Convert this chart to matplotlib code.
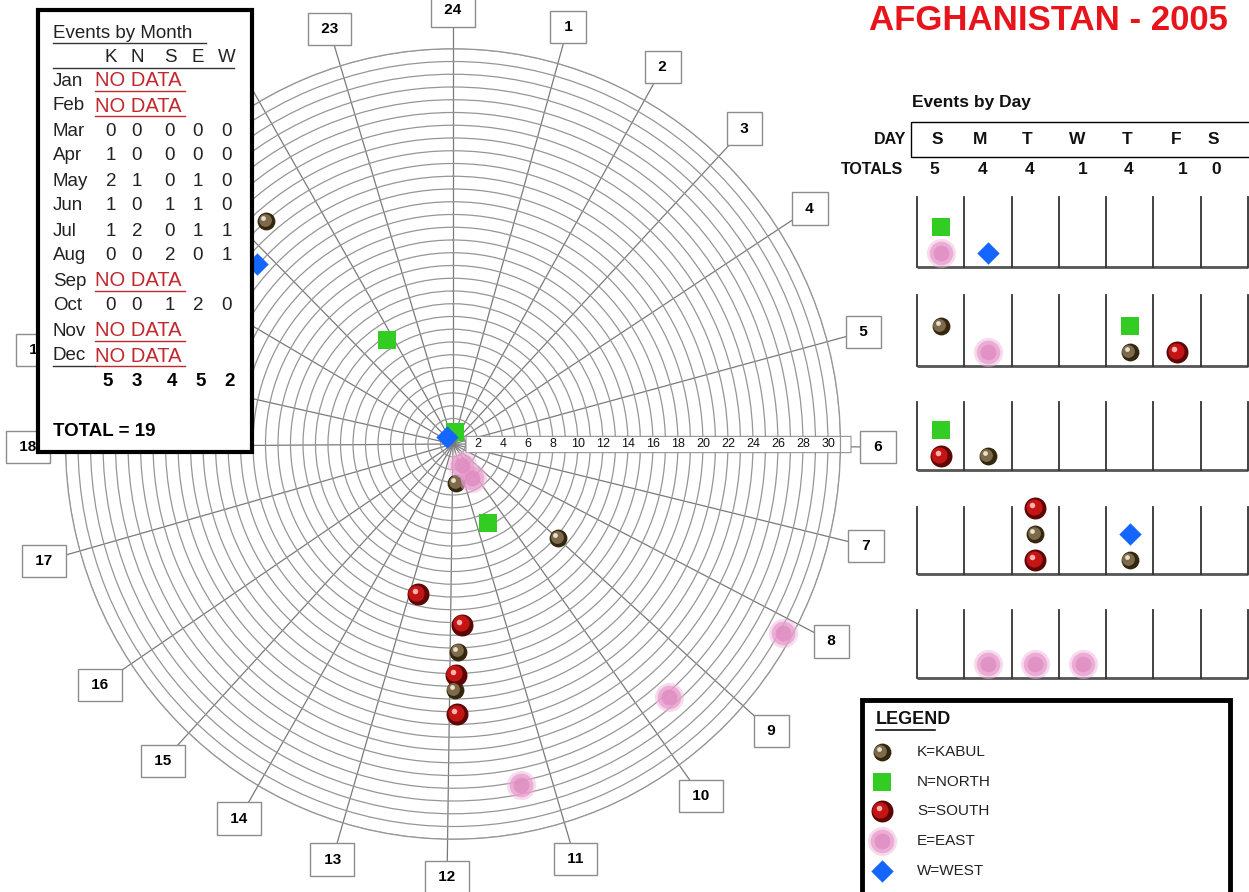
import numpy as np
import matplotlib.pyplot as plt
from matplotlib.patches import Rectangle
from matplotlib.transforms import offset_copy

plt.rcParams['font.family'] = ['Liberation Sans', 'DejaVu Sans']

# events on the clock chart: hour of day (angle) and ring value (radius)
k_hour = [21.3, 11.7, 8.75, 11.9, 11.97]
k_ring = [23.0, 3.1, 11.2, 16.3, 19.3]
n_hour = [21.8, 0.65, 10.4]
n_ring = [9.7, 0.95, 6.8]
s_hour = [12.9, 11.8, 11.95, 11.94]
s_ring = [12.1, 14.2, 18.1, 21.2]
e_hour = [10.4, 10.0, 7.95, 9.26, 11.23]
e_ring = [1.8, 3.1, 30.3, 26.3, 27.3]
w_hour = [20.8, 21.3]
w_ring = [21.1, 0.75]

# hour spokes, drawn by hand in the original so not quite every 15 degrees
hours = list(range(1, 25))
spoke_deg = [15.7, 29.6, 43.3, 57.1, 75.0, 90.4, 103.6, 117.1, 131.5, 144.3, 163.3, 180.8,
             196.5, 210.2, 223.0, 236.2, 254.3, 269.6, 282.5, 300.0, 315.0, 330.0, 343.1, 360.0]
ring_labels = list(range(2, 31, 2))

# events by month table (None = NO DATA)
months = ['Jan', 'Feb', 'Mar', 'Apr', 'May', 'Jun', 'Jul', 'Aug', 'Sep', 'Oct', 'Nov', 'Dec']
regions = ['K', 'N', 'S', 'E', 'W']
month_counts = [None, None,
                [0, 0, 0, 0, 0],
                [1, 0, 0, 0, 0],
                [2, 1, 0, 1, 0],
                [1, 0, 1, 1, 0],
                [1, 2, 0, 1, 1],
                [0, 0, 2, 0, 1],
                None,
                [0, 0, 1, 2, 0],
                None, None]

# events by day calendar: week row, weekday column, region, stack slot
days = ['S', 'M', 'T', 'W', 'T', 'F', 'S']
cal_week = [0, 0, 0, 1, 1, 1, 1, 1, 2, 2, 2, 3, 3, 3, 3, 3, 4, 4, 4]
cal_day = [0, 0, 1, 0, 1, 4, 4, 5, 0, 0, 1, 2, 2, 2, 4, 4, 1, 2, 3]
cal_region = ['N', 'E', 'W', 'K', 'E', 'N', 'K', 'S', 'N', 'S', 'K',
              'S', 'K', 'S', 'W', 'K', 'E', 'E', 'E']
cal_slot = [1, 0, 0, 1, 0, 1, 0, 0, 1, 0, 0, 2, 1, 0, 1, 0, 0, 0, 0]

legend_codes = ['K', 'N', 'S', 'E', 'W']
legend_names = ['K=KABUL', 'N=NORTH', 'S=SOUTH', 'E=EAST', 'W=WEST']


def draw_events(ax, x, y, region, z=5):
    fig = ax.figure
    hi1 = offset_copy(ax.transData, fig=fig, x=-1.5, y=1.5, units='dots')
    hi2 = offset_copy(ax.transData, fig=fig, x=-3, y=3, units='dots')
    if region == 'K':
        ax.scatter(x, y, s=165, c='#33270f', linewidths=0, zorder=z, clip_on=False)
        ax.scatter(x, y, s=85, c='#7d6a4a', linewidths=0, zorder=z + 0.1, transform=hi1, clip_on=False)
        ax.scatter(x, y, s=12, c='#e8dfcc', linewidths=0, zorder=z + 0.2, transform=hi2, clip_on=False)
    elif region == 'S':
        ax.scatter(x, y, s=250, c='#5e0606', linewidths=0, zorder=z, clip_on=False)
        ax.scatter(x, y, s=135, c='#c41414', linewidths=0, zorder=z + 0.1, transform=hi1, clip_on=False)
        ax.scatter(x, y, s=16, c='#ffb0b0', linewidths=0, zorder=z + 0.2, transform=hi2, clip_on=False)
    elif region == 'N':
        ax.scatter(x, y, s=175, marker='s', c='#33cc22', linewidths=0, zorder=z, clip_on=False)
    elif region == 'W':
        ax.scatter(x, y, s=130, marker='D', c='#1466ff', linewidths=0, zorder=z, clip_on=False)
    elif region == 'E':
        ax.scatter(x, y, s=440, c='#f0b8dc', alpha=0.5, linewidths=0, zorder=z, clip_on=False)
        ax.scatter(x, y, s=290, c='#e79acb', alpha=0.7, linewidths=0, zorder=z + 0.1, clip_on=False)
        ax.scatter(x, y, s=130, c='#df88bf', alpha=0.7, linewidths=0, zorder=z + 0.2, clip_on=False)


W, H = 1249, 892
fig = plt.figure(figsize=(W / 100, H / 100), dpi=100)
fig.patch.set_facecolor('white')

# clock chart
cx, cy = 453, 444
unit_x, unit_y = 12.5, 12.75
rmax = 31
ax = fig.add_axes([(cx - rmax * unit_x) / W, (H - cy - rmax * unit_y) / H,
                   2 * rmax * unit_x / W, 2 * rmax * unit_y / H], projection='polar')
ax.set_aspect('auto')
ax.set_theta_zero_location('N')
ax.set_theta_direction(-1)
ax.set_ylim(0, rmax)
ax.set_yticks(np.arange(1, rmax + 1))
ax.set_yticklabels([])
ax.set_xticks([])
ax.yaxis.grid(True, color='#969696', lw=0.9)
ax.xaxis.grid(False)
ax.spines['polar'].set_color('#969696')
ax.spines['polar'].set_linewidth(0.9)

for h, deg in zip(hours, spoke_deg):
    th = np.deg2rad(deg)
    ax.plot([0, th], [0, 34.0], color='#7a7a7a', lw=0.9, zorder=1, clip_on=False)
    if h in (20, 21, 22):
        continue  # these boxes sit under the month table
    ax.text(th, 34.0, ' %d ' % h, ha='center', va='center', fontsize=11, fontweight='bold',
            bbox=dict(boxstyle='square,pad=0.6', fc='white', ec='#8c8c8c', lw=1),
            zorder=3, clip_on=False)

# ring scale strip along the 6 o'clock spoke
th6 = np.deg2rad(90)
ax.plot([th6, th6], [0.95, 31.85], color='#8c8c8c', lw=12.5, solid_capstyle='butt', zorder=2, clip_on=False)
ax.plot([th6, th6], [1.05, 31.75], color='white', lw=11.0, solid_capstyle='butt', zorder=2.1, clip_on=False)
for r in ring_labels:
    ax.text(th6, r, str(r), ha='center', va='center', fontsize=9, color='#111', zorder=2.2)

for hrs, rings, code in [(k_hour, k_ring, 'K'), (n_hour, n_ring, 'N'), (s_hour, s_ring, 'S'),
                         (e_hour, e_ring, 'E'), (w_hour, w_ring, 'W')]:
    draw_events(ax, np.deg2rad(np.array(hrs) * 15), np.array(rings), code)

# overlay in pixel coordinates for the panels
ov = fig.add_axes([0, 0, 1, 1])
ov.set_xlim(0, W)
ov.set_ylim(H, 0)
ov.axis('off')
ov.patch.set_alpha(0)

ov.text(1048, 21, 'AFGHANISTAN - 2005', ha='center', va='center', fontsize=25,
        fontweight='bold', color='#e8141b')

# month table
txt = '#222222'
red = '#c0282d'
ov.add_patch(Rectangle((38, 10), 214, 442, fc='white', ec='black', lw=3, zorder=2))
ov.text(53, 33, 'Events by Month', fontsize=13.5, va='center', color=txt, zorder=3)
ov.plot([53, 206], [43, 43], color='#333', lw=1, zorder=3)
col_x = [111, 137, 170, 198, 227]
for lab, x in zip(regions, col_x):
    ov.text(x, 57, lab, ha='center', va='center', fontsize=13.5, color=txt, zorder=3)
ov.plot([53, 234], [68, 68], color='#333', lw=1, zorder=3)
for i, (m, counts) in enumerate(zip(months, month_counts)):
    y = 81 + 25 * i
    ov.text(53, y, m, va='center', fontsize=13.5, color=txt, zorder=3)
    if counts is None:
        ov.text(95, y, 'NO DATA', va='center', fontsize=14.5, color=red, zorder=3)
        ov.plot([95, 185], [y + 10, y + 10], color=red, lw=1, zorder=3)
    else:
        for v, x in zip(counts, col_x):
            ov.text(x, y, str(v), ha='center', va='center', fontsize=13.5, color=txt, zorder=3)
ov.plot([53, 95], [366, 366], color='#333', lw=1, zorder=3)
col_tot = [sum(c[j] for c in month_counts if c is not None) for j in range(len(regions))]
tot_col_x = [108, 137, 172, 201, 230]
for v, x in zip(col_tot, tot_col_x):
    ov.text(x, 381, str(v), ha='center', va='center', fontsize=13.5, fontweight='bold', zorder=3)
ov.text(53, 432, 'TOTAL = %d' % sum(col_tot), va='center', fontsize=13.5, fontweight='bold', zorder=3)

# events by day
ov.text(912, 103, 'Events by Day', va='center', fontsize=12.5, fontweight='bold', color='#111')
ov.add_patch(Rectangle((911, 122), 345, 35, fc='none', ec='black', lw=1))
ov.text(906, 140, 'DAY', ha='right', va='center', fontsize=11.5, fontweight='bold', color='#111')
ov.text(903, 169, 'TOTALS', ha='right', va='center', fontsize=11.5, fontweight='bold', color='#111')
day_x = [937, 980, 1027, 1077, 1127, 1176, 1213]
tot_x = [934, 983, 1030, 1083, 1129, 1183, 1216]
day_tot = [cal_day.count(d) for d in range(7)]
for d, lab in enumerate(days):
    ov.text(day_x[d], 140, lab, ha='center', va='center', fontsize=12.5, fontweight='bold', color='#111')
    ov.text(tot_x[d], 169, str(day_tot[d]), ha='center', va='center', fontsize=12.5, fontweight='bold', color='#111')

col0, colw = 917, 47.3
row_top = [197, 295, 402, 507, 610]
row_base = [267, 366, 470, 574, 678]
for top, base in zip(row_top, row_base):
    ov.plot([col0, col0 + 7 * colw], [base, base], color='#555', lw=2, solid_capstyle='butt')
    for i in range(8):
        ov.plot([col0 + i * colw, col0 + i * colw], [top, base], color='#333', lw=1.3)
for wk, d, code, slot in zip(cal_week, cal_day, cal_region, cal_slot):
    draw_events(ov, col0 + (d + 0.5) * colw, row_base[wk] - 14 - 26 * slot, code)

# legend
ov.add_patch(Rectangle((862, 700), 368, 200, fc='white', ec='black', lw=3.5, zorder=1))
ov.text(876, 720, 'LEGEND', va='center', fontsize=13, fontweight='bold', color='#111', zorder=2)
ov.plot([876, 935], [730, 730], color='#111', lw=1.2, zorder=2)
for i, (code, name) in enumerate(zip(legend_codes, legend_names)):
    y = 752 + 29.7 * i
    draw_events(ov, 882, y, code)
    ov.text(917, y, name, va='center', fontsize=11, color=txt, zorder=2)

fig.savefig('out.png', dpi=100)
